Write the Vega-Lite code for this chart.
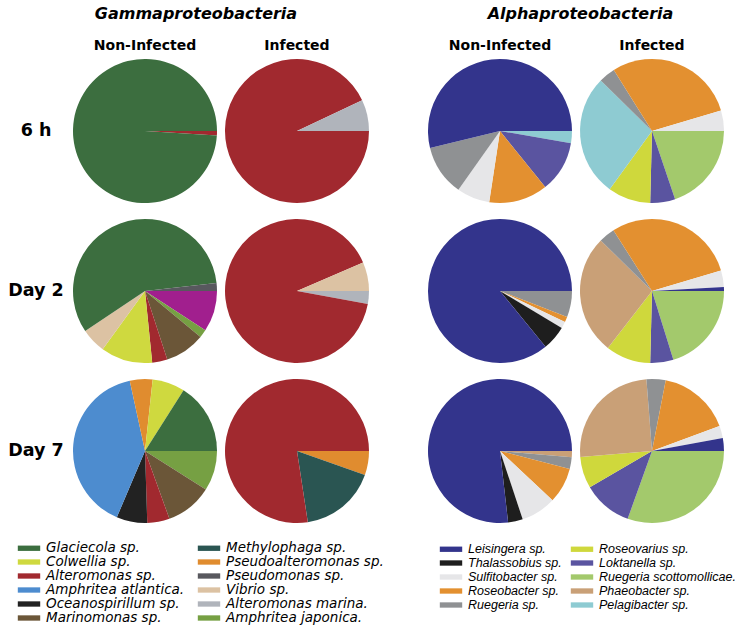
{
  "$schema": "https://vega.github.io/schema/vega-lite/v6.json",
  "background": "white",
  "padding": {"left": 8, "top": 6, "right": 3, "bottom": 0},
  "datasets": {
    "rows": [
      {"time": "6 h", "c": "x"},
      {"time": "Day 2", "c": "x"},
      {"time": "Day 7", "c": "x"}
    ],
    "gamma": [
      {"time": "6 h", "inf": "Non-Infected", "k": 1, "taxon": "Alteromonas sp.", "pct": 1},
      {"time": "6 h", "inf": "Non-Infected", "k": 2, "taxon": "Glaciecola sp.", "pct": 99},
      {"time": "6 h", "inf": "Infected", "k": 1, "taxon": "Alteromonas sp.", "pct": 93},
      {"time": "6 h", "inf": "Infected", "k": 2, "taxon": "Alteromonas marina.", "pct": 7},
      {"time": "Day 2", "inf": "Non-Infected", "k": 1, "taxon": "Other", "pct": 9.2},
      {"time": "Day 2", "inf": "Non-Infected", "k": 2, "taxon": "Amphritea japonica.", "pct": 1.8},
      {"time": "Day 2", "inf": "Non-Infected", "k": 3, "taxon": "Marinomonas sp.", "pct": 9},
      {"time": "Day 2", "inf": "Non-Infected", "k": 4, "taxon": "Alteromonas sp.", "pct": 3.4},
      {"time": "Day 2", "inf": "Non-Infected", "k": 5, "taxon": "Colwellia sp.", "pct": 11.6},
      {"time": "Day 2", "inf": "Non-Infected", "k": 6, "taxon": "Vibrio sp.", "pct": 5.6},
      {"time": "Day 2", "inf": "Non-Infected", "k": 7, "taxon": "Glaciecola sp.", "pct": 57.6},
      {"time": "Day 2", "inf": "Non-Infected", "k": 8, "taxon": "Pseudomonas sp.", "pct": 1.8},
      {"time": "Day 2", "inf": "Infected", "k": 1, "taxon": "Alteromonas marina.", "pct": 2.9},
      {"time": "Day 2", "inf": "Infected", "k": 2, "taxon": "Alteromonas sp.", "pct": 90.6},
      {"time": "Day 2", "inf": "Infected", "k": 3, "taxon": "Vibrio sp.", "pct": 6.5},
      {"time": "Day 7", "inf": "Non-Infected", "k": 1, "taxon": "Amphritea japonica.", "pct": 9},
      {"time": "Day 7", "inf": "Non-Infected", "k": 2, "taxon": "Marinomonas sp.", "pct": 10.5},
      {"time": "Day 7", "inf": "Non-Infected", "k": 3, "taxon": "Alteromonas sp.", "pct": 5},
      {"time": "Day 7", "inf": "Non-Infected", "k": 4, "taxon": "Oceanospirillum sp.", "pct": 6.9},
      {"time": "Day 7", "inf": "Non-Infected", "k": 5, "taxon": "Amphritea atlantica.", "pct": 40.2},
      {"time": "Day 7", "inf": "Non-Infected", "k": 6, "taxon": "Pseudoalteromonas sp.", "pct": 5.1},
      {"time": "Day 7", "inf": "Non-Infected", "k": 7, "taxon": "Colwellia sp.", "pct": 7.3},
      {"time": "Day 7", "inf": "Non-Infected", "k": 8, "taxon": "Glaciecola sp.", "pct": 16},
      {"time": "Day 7", "inf": "Infected", "k": 1, "taxon": "Pseudoalteromonas sp.", "pct": 5.4},
      {"time": "Day 7", "inf": "Infected", "k": 2, "taxon": "Methylophaga sp.", "pct": 17.2},
      {"time": "Day 7", "inf": "Infected", "k": 3, "taxon": "Alteromonas sp.", "pct": 77.4}
    ],
    "alpha": [
      {"time": "6 h", "inf": "Non-Infected", "k": 1, "taxon": "Pelagibacter sp.", "pct": 2.7},
      {"time": "6 h", "inf": "Non-Infected", "k": 2, "taxon": "Loktanella sp.", "pct": 11.5},
      {"time": "6 h", "inf": "Non-Infected", "k": 3, "taxon": "Roseobacter sp.", "pct": 13.2},
      {"time": "6 h", "inf": "Non-Infected", "k": 4, "taxon": "Sulfitobacter sp.", "pct": 7.4},
      {"time": "6 h", "inf": "Non-Infected", "k": 5, "taxon": "Ruegeria sp.", "pct": 11.4},
      {"time": "6 h", "inf": "Non-Infected", "k": 6, "taxon": "Leisingera sp.", "pct": 53.8},
      {"time": "6 h", "inf": "Infected", "k": 1, "taxon": "Ruegeria scottomollicae.", "pct": 19.8},
      {"time": "6 h", "inf": "Infected", "k": 2, "taxon": "Loktanella sp.", "pct": 5.6},
      {"time": "6 h", "inf": "Infected", "k": 3, "taxon": "Roseovarius sp.", "pct": 9.6},
      {"time": "6 h", "inf": "Infected", "k": 4, "taxon": "Pelagibacter sp.", "pct": 27.4},
      {"time": "6 h", "inf": "Infected", "k": 5, "taxon": "Ruegeria sp.", "pct": 3.7},
      {"time": "6 h", "inf": "Infected", "k": 6, "taxon": "Roseobacter sp.", "pct": 29.3},
      {"time": "6 h", "inf": "Infected", "k": 7, "taxon": "Sulfitobacter sp.", "pct": 4.6},
      {"time": "Day 2", "inf": "Non-Infected", "k": 1, "taxon": "Ruegeria sp.", "pct": 5.9},
      {"time": "Day 2", "inf": "Non-Infected", "k": 2, "taxon": "Roseobacter sp.", "pct": 1.2},
      {"time": "Day 2", "inf": "Non-Infected", "k": 3, "taxon": "Sulfitobacter sp.", "pct": 1.5},
      {"time": "Day 2", "inf": "Non-Infected", "k": 4, "taxon": "Thalassobius sp.", "pct": 5.5},
      {"time": "Day 2", "inf": "Non-Infected", "k": 5, "taxon": "Leisingera sp.", "pct": 85.9},
      {"time": "Day 2", "inf": "Infected", "k": 1, "taxon": "Ruegeria scottomollicae.", "pct": 20.2},
      {"time": "Day 2", "inf": "Infected", "k": 2, "taxon": "Loktanella sp.", "pct": 5.2},
      {"time": "Day 2", "inf": "Infected", "k": 3, "taxon": "Roseovarius sp.", "pct": 10.1},
      {"time": "Day 2", "inf": "Infected", "k": 4, "taxon": "Phaeobacter sp.", "pct": 26.9},
      {"time": "Day 2", "inf": "Infected", "k": 5, "taxon": "Ruegeria sp.", "pct": 3.6},
      {"time": "Day 2", "inf": "Infected", "k": 6, "taxon": "Roseobacter sp.", "pct": 29.4},
      {"time": "Day 2", "inf": "Infected", "k": 7, "taxon": "Sulfitobacter sp.", "pct": 3.7},
      {"time": "Day 2", "inf": "Infected", "k": 8, "taxon": "Leisingera sp.", "pct": 0.9},
      {"time": "Day 7", "inf": "Non-Infected", "k": 1, "taxon": "Phaeobacter sp.", "pct": 1.4},
      {"time": "Day 7", "inf": "Non-Infected", "k": 2, "taxon": "Ruegeria sp.", "pct": 2.6},
      {"time": "Day 7", "inf": "Non-Infected", "k": 3, "taxon": "Roseobacter sp.", "pct": 8},
      {"time": "Day 7", "inf": "Non-Infected", "k": 4, "taxon": "Sulfitobacter sp.", "pct": 7.9},
      {"time": "Day 7", "inf": "Non-Infected", "k": 5, "taxon": "Thalassobius sp.", "pct": 3.3},
      {"time": "Day 7", "inf": "Non-Infected", "k": 6, "taxon": "Leisingera sp.", "pct": 76.8},
      {"time": "Day 7", "inf": "Infected", "k": 1, "taxon": "Ruegeria scottomollicae.", "pct": 30.5},
      {"time": "Day 7", "inf": "Infected", "k": 2, "taxon": "Loktanella sp.", "pct": 11.1},
      {"time": "Day 7", "inf": "Infected", "k": 3, "taxon": "Roseovarius sp.", "pct": 7.1},
      {"time": "Day 7", "inf": "Infected", "k": 4, "taxon": "Phaeobacter sp.", "pct": 25.1},
      {"time": "Day 7", "inf": "Infected", "k": 5, "taxon": "Ruegeria sp.", "pct": 4.3},
      {"time": "Day 7", "inf": "Infected", "k": 6, "taxon": "Roseobacter sp.", "pct": 16.3},
      {"time": "Day 7", "inf": "Infected", "k": 7, "taxon": "Sulfitobacter sp.", "pct": 2.75},
      {"time": "Day 7", "inf": "Infected", "k": 8, "taxon": "Leisingera sp.", "pct": 2.9}
    ]
  },
  "spacing": 41,
  "hconcat": [
    {
      "title": {"text": "Gammaproteobacteria", "anchor": "middle", "font": "DejaVu Sans", "fontSize": 16, "fontWeight": "bold", "fontStyle": "italic", "color": "black", "offset": 17},
      "spacing": 6,
      "hconcat": [
        {
          "data": {"name": "rows"},
          "spacing": {"row": 10, "column": 2},
          "facet": {
            "row": {"field": "time", "type": "nominal", "sort": ["6 h", "Day 2", "Day 7"], "title": null, "header": {"labels": false}},
            "column": {"field": "c", "type": "nominal", "title": null,
              "header": {"labelExpr": "'\u2007'", "labelFont": "DejaVu Sans", "labelFontSize": 14, "labelFontWeight": "bold", "labelColor": "black", "labelPadding": 3}}
          },
          "spec": {
            "width": 56, "height": 150,
            "mark": {"type": "text", "font": "DejaVu Sans", "fontSize": 17.5, "fontWeight": "bold", "color": "black", "align": "center", "baseline": "middle"},
            "encoding": {"text": {"field": "time", "type": "nominal"}}
          }
        },
        {
          "data": {"name": "gamma"},
          "spacing": {"row": 10, "column": 2},
          "facet": {
            "row": {"field": "time", "type": "nominal", "sort": ["6 h", "Day 2", "Day 7"], "title": null, "header": {"labels": false}},
            "column": {"field": "inf", "type": "nominal", "sort": ["Non-Infected", "Infected"], "title": null,
              "header": {"labelFont": "DejaVu Sans", "labelFontSize": 14, "labelFontWeight": "bold", "labelColor": "black", "labelPadding": 3}}
          },
          "spec": {
            "width": 150, "height": 150,
            "mark": {"type": "arc", "outerRadius": 72},
            "encoding": {
              "theta": {"field": "pct", "type": "quantitative", "stack": "normalize", "scale": {"range": [1.5708, 7.854]}},
              "order": {"field": "k", "type": "quantitative"},
              "color": {
                "condition": {"test": "datum.taxon === 'Other'", "value": "#a11f8e"},
                "field": "taxon", "type": "nominal",
                "scale": {
                  "domain": ["Glaciecola sp.", "Colwellia sp.", "Alteromonas sp.", "Amphritea atlantica.", "Oceanospirillum sp.", "Marinomonas sp.", "Methylophaga sp.", "Pseudoalteromonas sp.", "Pseudomonas sp.", "Vibrio sp.", "Alteromonas marina.", "Amphritea japonica."],
                  "range": ["#3c6e3f", "#cfd93f", "#a1292f", "#4d8ccf", "#222222", "#6b5638", "#2a5552", "#e08c2f", "#58585e", "#dcc2a3", "#b0b4bb", "#76a043"]
                },
                "legend": {"title": null, "orient": "none", "legendX": 14, "legendY": 485, "columns": 2, "columnPadding": 12, "rowPadding": 0, "symbolType": "M-1.6,-0.38H1.6V0.38H-1.6Z", "symbolSize": 196, "symbolStrokeWidth": 0, "labelOffset": 10, "labelFont": "DejaVu Sans", "labelFontStyle": "italic", "labelFontSize": 13.5, "labelColor": "black", "labelLimit": 300}
              }
            }
          }
        }
      ]
    },
    {
      "data": {"name": "alpha"},
      "title": {"text": "Alphaproteobacteria", "anchor": "middle", "font": "DejaVu Sans", "fontSize": 16, "fontWeight": "bold", "fontStyle": "italic", "color": "black", "offset": 17},
      "spacing": {"row": 10, "column": 2},
      "facet": {
        "row": {"field": "time", "type": "nominal", "sort": ["6 h", "Day 2", "Day 7"], "title": null, "header": {"labels": false}},
        "column": {"field": "inf", "type": "nominal", "sort": ["Non-Infected", "Infected"], "title": null,
          "header": {"labelFont": "DejaVu Sans", "labelFontSize": 14, "labelFontWeight": "bold", "labelColor": "black", "labelPadding": 3}}
      },
      "spec": {
        "width": 150, "height": 150,
        "mark": {"type": "arc", "outerRadius": 72},
        "encoding": {
          "theta": {"field": "pct", "type": "quantitative", "stack": "normalize", "scale": {"range": [1.5708, 7.854]}},
          "order": {"field": "k", "type": "quantitative"},
          "color": {
            "field": "taxon", "type": "nominal",
            "scale": {
              "domain": ["Leisingera sp.", "Thalassobius sp.", "Sulfitobacter sp.", "Roseobacter sp.", "Ruegeria sp.", "Roseovarius sp.", "Loktanella sp.", "Ruegeria scottomollicae.", "Phaeobacter sp.", "Pelagibacter sp."],
              "range": ["#33348c", "#1e1e1e", "#e6e6e8", "#e39030", "#8f9193", "#cfd83c", "#5a54a0", "#a3c96c", "#c9a077", "#8ecbd2"]
            },
            "legend": {"title": null, "orient": "none", "legendX": 19, "legendY": 486, "columns": 2, "columnPadding": 8, "rowPadding": 0, "symbolType": "M-1.6,-0.38H1.6V0.38H-1.6Z", "symbolSize": 196, "symbolStrokeWidth": 0, "labelOffset": 10, "labelFont": "Liberation Sans", "labelFontStyle": "italic", "labelFontSize": 12.5, "labelColor": "black", "labelLimit": 300}
          }
        }
      }
    }
  ],
  "resolve": {"scale": {"color": "independent"}, "legend": {"color": "independent"}},
  "config": {"view": {"stroke": null}}
}
